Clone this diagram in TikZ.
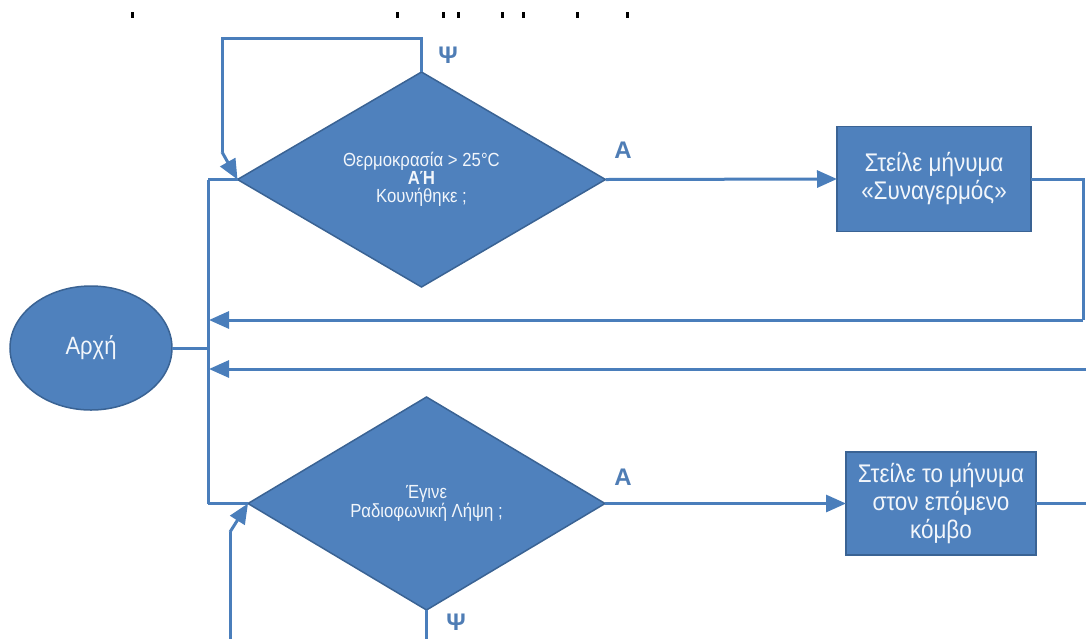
\documentclass[tikz,border=0pt]{standalone}
\usepackage{fontspec}
\setmainfont{Liberation Sans}
\newfontfamily\narrowf{Liberation Sans}[FakeStretch=0.88]
\usetikzlibrary{shapes.geometric,arrows.meta}
\definecolor{fillblue}{HTML}{4F81BD}
\definecolor{edgeblue}{HTML}{3A6394}
\definecolor{lineblue}{HTML}{4A7EBB}
\definecolor{labelblue}{HTML}{4F7DB5}
\definecolor{txtcol}{HTML}{F2F6FB}
\begin{document}
\begin{tikzpicture}[x=1pt,y=-1pt,
  conn/.style={draw=lineblue, line width=3pt},
  arr/.style={conn, -{Triangle[length=20pt,width=17pt]}},
  decision/.style={diamond, draw=edgeblue, line width=1.5pt, fill=fillblue,
    inner sep=0pt, outer sep=0pt, text=txtcol, align=center,
    font=\narrowf\fontsize{19}{18}\selectfont},
  action/.style={rectangle, draw=edgeblue, line width=1.5pt, fill=fillblue,
    inner sep=0pt, outer sep=0pt, text=txtcol, align=center,
    font=\narrowf\fontsize{25.5}{28}\selectfont},
  startnode/.style={ellipse, draw=edgeblue, line width=1.5pt, fill=fillblue,
    inner sep=0pt, outer sep=0pt, text=txtcol,
    font=\narrowf\fontsize{25}{28}\selectfont},
  lbl/.style={text=labelblue, font=\bfseries\fontsize{24}{24}\selectfont, inner sep=0pt},
  tick/.style={fill=black}
]
\useasboundingbox (0,0) rectangle (1086,638);
\clip (0,0) rectangle (1086,638);

% remnants of clipped text at top
\foreach \xx in {132,397,443,458,502,523,577,627}
  \fill[tick] (\xx-1.5,12) rectangle (\xx+1.5,18);

% nodes
\node[startnode, minimum width=162pt, minimum height=124pt] (start) at (91,348) {Αρχή};
\node[decision, minimum width=368pt, minimum height=215pt] (d1) at (421.5,179.5)
  {Θερμοκρασία > 25°C\\ \textbf{ΑΉ}\\ Κουνήθηκε ;};
\node[decision, minimum width=357pt, minimum height=213pt] (d2) at (426.5,503.5)
  {Έγινε\\ Ραδιοφωνική Λήψη ;};
\node[action, minimum width=194pt, minimum height=105pt] (b1) at (934,179)
  {Στείλε μήνυμα\\ «Συναγερμός»};
\node[action, minimum width=190pt, minimum height=103pt] (b2) at (941,503.5)
  {Στείλε το μήνυμα\\ στον επόμενο\\ κόμβο};

% labels
\node[lbl] (lA1) at (623,150) {A};
\node[lbl] (lA2) at (623,477) {A};
\node[lbl] (lY1) at (448,55) {Ψ};
\node[lbl] (lY2) at (456,622) {Ψ};

% coordinates
\coordinate (trTop) at (208,179.5);
\coordinate (trBot) at (208,503.5);
\coordinate (trMid) at (208,348);
\coordinate (ret1) at (209,320);
\coordinate (ret2) at (209,369);
\coordinate (edgeR1) at (1083,179);
\coordinate (edgeR1b) at (1083,320);
\coordinate (edgeR2) at (1090,369);
\coordinate (edgeR3) at (1090,503.5);
\coordinate (loop1a) at (421.5,38);
\coordinate (loop1b) at (222,38);
\coordinate (loop1c) at (222,152);
\coordinate (loop2a) at (426.5,650);
\coordinate (loop2b) at (230,650);
\coordinate (loop2c) at (230,532);

% connectors
\draw[conn] (start.east) -- (trMid);
\draw[conn] (trTop) -- (trBot);
\draw[conn] (trTop) -- (d1.west);
\draw[conn] (trBot) -- (d2.west);
\draw[arr] (d1.east) -- (b1.west);
\draw[arr] (d2.east) -- (b2.west);
\draw[conn] (b1.east) -- (edgeR1) -- (edgeR1b);
\draw[arr] (edgeR1b) -- (ret1);
\draw[arr] (edgeR2) -- (ret2);
\draw[conn] (b2.east) -- (edgeR3);
\draw[conn] (d1.north) -- (loop1a) -- (loop1b) -- (loop1c);
\draw[arr] (loop1c) -- (d1.west);
\draw[conn] (d2.south) -- (loop2a) -- (loop2b) -- (loop2c);
\draw[arr] (loop2c) -- (d2.west);
\end{tikzpicture}
\end{document}
